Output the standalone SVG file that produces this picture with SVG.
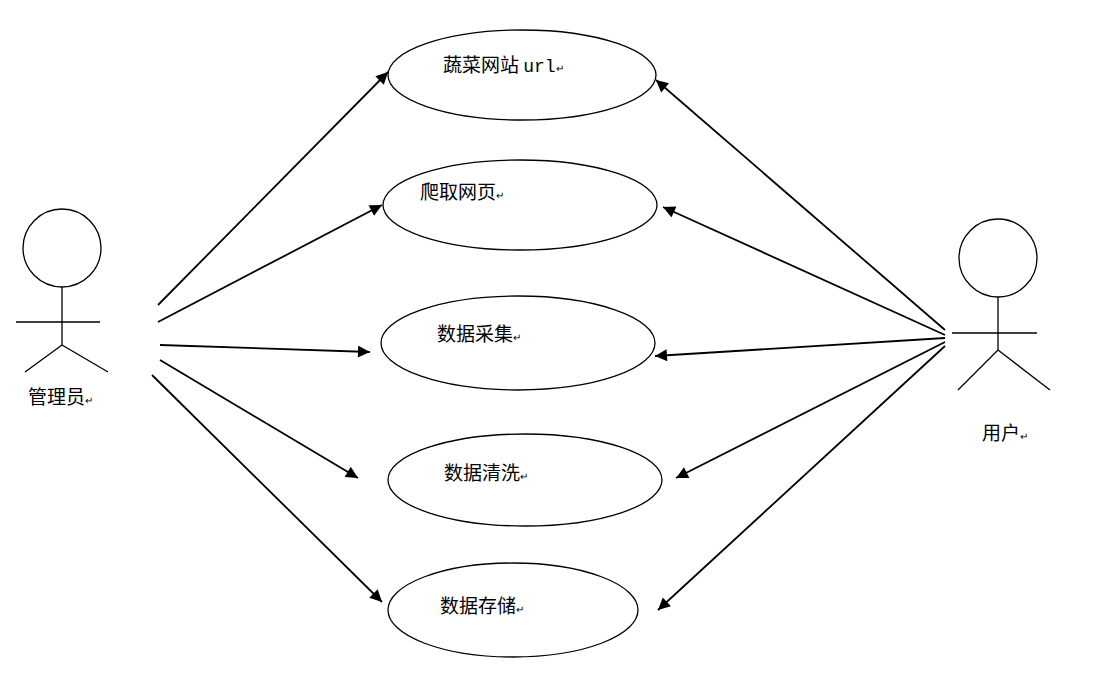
<svg xmlns="http://www.w3.org/2000/svg" width="1098" height="674" viewBox="0 0 1098 674">
<defs>
<marker id="a" viewBox="0 0 10 10" refX="10" refY="5" markerWidth="14" markerHeight="12" markerUnits="userSpaceOnUse" orient="auto"><path d="M0,0L10,5L0,10z" fill="#000"/></marker>
<style>
.s{fill:none;stroke:#000;stroke-width:1.3}
.c line{stroke:#000;stroke-width:1.8;marker-end:url(#a)}
text{font-family:"Noto Sans CJK SC","Liberation Serif",serif;font-size:19px;fill:#000}
.r{font-size:10px}
</style>
</defs>
<rect width="1098" height="674" fill="#fff"/>
<g id="uc1"><ellipse class="s" cx="522" cy="75" rx="134" ry="45"/><text x="443" y="72">蔬菜网站 <tspan font-family="Liberation Mono,monospace" font-size="18">url</tspan><tspan class="r">↵</tspan></text></g>
<g id="uc2"><ellipse class="s" cx="520" cy="205" rx="137" ry="45"/><text x="420" y="199">爬取网页<tspan class="r">↵</tspan></text></g>
<g id="uc3"><ellipse class="s" cx="518" cy="343" rx="137" ry="47"/><text x="437" y="341">数据采集<tspan class="r">↵</tspan></text></g>
<g id="uc4"><ellipse class="s" cx="525" cy="480" rx="137" ry="46"/><text x="444" y="480">数据清洗<tspan class="r">↵</tspan></text></g>
<g id="uc5"><ellipse class="s" cx="513" cy="610" rx="125" ry="47"/><text x="440" y="613">数据存储<tspan class="r">↵</tspan></text></g>
<g id="admin"><circle class="s" cx="62" cy="248" r="39"/><path class="s" d="M62,287V345M16,322H100M62,345L25,372M62,345L108,372"/><text x="28" y="404">管理员<tspan class="r">↵</tspan></text></g>
<g id="user"><circle class="s" cx="998" cy="258" r="39"/><path class="s" d="M998,297V350M952,333H1037M998,350L958,390M998,350L1050,390"/><text x="982" y="440">用户<tspan class="r">↵</tspan></text></g>
<g class="c">
<line x1="158" y1="305" x2="388" y2="72"/>
<line x1="158" y1="322" x2="382" y2="205"/>
<line x1="160" y1="345" x2="370" y2="352"/>
<line x1="160" y1="360" x2="358" y2="478"/>
<line x1="152" y1="375" x2="382" y2="602"/>
<line x1="945" y1="330" x2="656" y2="80"/>
<line x1="945" y1="335" x2="663" y2="207"/>
<line x1="945" y1="338" x2="655" y2="356"/>
<line x1="945" y1="342" x2="676" y2="478"/>
<line x1="945" y1="346" x2="658" y2="610"/>
</g>
</svg>
